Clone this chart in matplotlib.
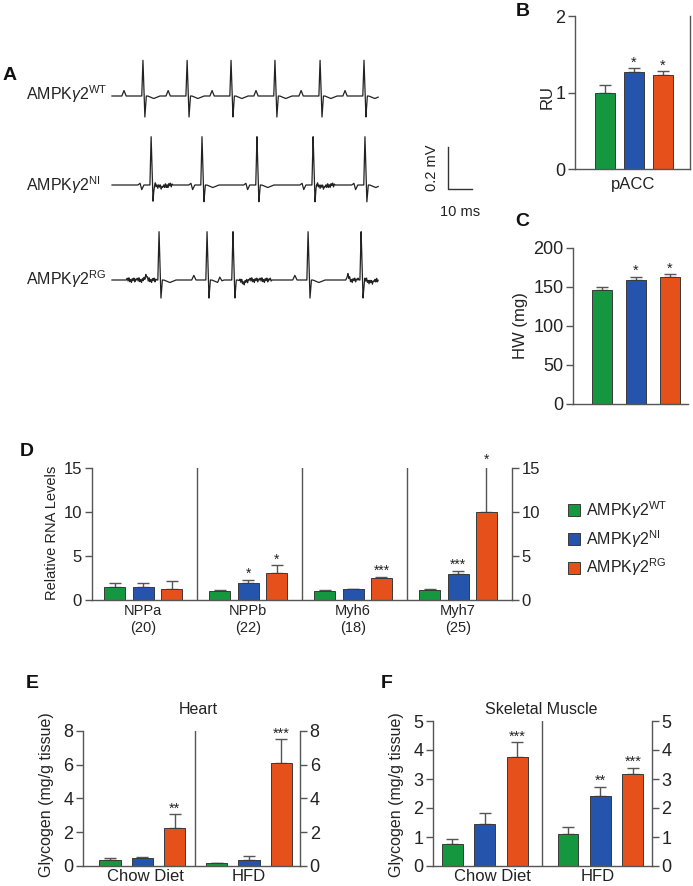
import numpy as np
import matplotlib
matplotlib.use('Agg')
import matplotlib.pyplot as plt
from matplotlib.patches import Patch

plt.rcParams['font.family'] = ['Liberation Sans', 'DejaVu Sans']
plt.rcParams['mathtext.fontset'] = 'custom'
plt.rcParams['mathtext.rm'] = 'Liberation Sans'
plt.rcParams['mathtext.it'] = 'Liberation Sans:italic'
plt.rcParams['mathtext.bf'] = 'Liberation Sans:bold'
plt.rcParams['text.color'] = '#222222'
plt.rcParams['xtick.color'] = '#555555'
plt.rcParams['ytick.color'] = '#555555'
plt.rcParams['xtick.labelcolor'] = '#222222'
plt.rcParams['ytick.labelcolor'] = '#222222'

# ---------------- data ----------------
genotype_labels = [r'AMPK$\gamma$2$^{\mathrm{WT}}$', r'AMPK$\gamma$2$^{\mathrm{NI}}$', r'AMPK$\gamma$2$^{\mathrm{RG}}$']

# Panel A: ECG traces (spike times in ms, amplitudes in mV)
ecg_spikes_wt = [12.9, 31.3, 49.6, 67.9, 86.7, 105.0]
ecg_spikes_ni = [16.3, 37.5, 60.4, 83.8, 105.4]
ecg_spikes_rg = [19.6, 39.6, 50.4, 81.7, 103.8]
ecg_up = [0.17, 0.23, 0.23]
ecg_down = [0.10, 0.08, 0.086]
ecg_noise_windows_ni = [(17.0, 25.5), (84.6, 93.6)]
ecg_noise_windows_rg = [(6.0, 19.0), (53.0, 67.0), (98.0, 103.0), (105.0, 111.0)]
ecg_noise_pattern = [0.0, 0.010, -0.005, 0.013, -0.008, 0.004, -0.012, 0.008, -0.003, 0.011, -0.009, 0.005]

# Panel B: pACC
pacc_vals = [1.00, 1.27, 1.23]
pacc_err = [0.10, 0.05, 0.05]
pacc_sig = ['', '*', '*']

# Panel C: heart weight
hw_vals = [146, 159, 162]
hw_err = [4, 4, 4]
hw_sig = ['', '*', '*']

# Panel D: relative RNA levels
rna_genes = ['NPPa\n(20)', 'NPPb\n(22)', 'Myh6\n(18)', 'Myh7\n(25)']
rna_wt = [1.5, 1.05, 1.05, 1.12]
rna_wt_err = [0.45, 0.10, 0.05, 0.15]
rna_ni = [1.5, 1.95, 1.2, 2.92]
rna_ni_err = [0.45, 0.35, 0.05, 0.42]
rna_rg = [1.2, 3.07, 2.5, 10.0]
rna_rg_err = [1.0, 0.90, 0.15, 5.3]
rna_sig_wt = ['', '', '', '']
rna_sig_ni = ['', '*', '', '***']
rna_sig_rg = ['', '*', '***', '*']

# Panel E: heart glycogen
diets = ['Chow Diet', 'HFD']
heart_wt = [0.36, 0.16]
heart_wt_err = [0.13, 0.04]
heart_ni = [0.45, 0.36]
heart_ni_err = [0.10, 0.25]
heart_rg = [2.27, 6.07]
heart_rg_err = [0.79, 1.44]
heart_sig_wt = ['', '']
heart_sig_ni = ['', '']
heart_sig_rg = ['**', '***']

# Panel F: skeletal muscle glycogen
muscle_wt = [0.76, 1.10]
muscle_wt_err = [0.17, 0.23]
muscle_ni = [1.45, 2.41]
muscle_ni_err = [0.37, 0.33]
muscle_rg = [3.77, 3.16]
muscle_rg_err = [0.49, 0.23]
muscle_sig_wt = ['', '']
muscle_sig_ni = ['', '**']
muscle_sig_rg = ['***', '***']

# ---------------- style ----------------
W, H = 693, 886
GREEN, BLUE, ORANGE = '#15973f', '#2554ad', '#e5501b'
COLORS = [GREEN, BLUE, ORANGE]
SPINE = '#555555'
EDGE = '#3a3a3a'

fig = plt.figure(figsize=(W / 100, H / 100), dpi=100)


def ax_at(x0, y0, x1, y1):
    return fig.add_axes([x0 / W, 1 - y1 / H, (x1 - x0) / W, (y1 - y0) / H])


def ftext(x, y, s, **kw):
    return fig.text(x / W, 1 - y / H, s, **kw)


def style_axes(ax, right=False, rightticks=False, fs=13):
    ax.spines['top'].set_visible(False)
    ax.spines['right'].set_visible(right)
    for s in ['left', 'bottom', 'right']:
        ax.spines[s].set_color(SPINE)
        ax.spines[s].set_linewidth(1.0)
    ax.tick_params(axis='y', direction='out', length=5, width=1, labelsize=fs, pad=2,
                   right=rightticks, labelright=rightticks)
    ax.tick_params(axis='x', length=0, labelsize=fs)


def bars(ax, xs, vals, errs, color, width, sigs, fs=10.5):
    ax.bar(xs, vals, width=width, color=color, edgecolor=EDGE, linewidth=0.7, zorder=2)
    ax.errorbar(xs, vals, yerr=[np.zeros(len(vals)), errs], fmt='none', ecolor='#555555',
                elinewidth=1.0, capsize=4, capthick=1.0, zorder=1)
    for x, v, e, s in zip(xs, vals, errs, sigs):
        if s:
            ax.annotate(s, (x, v + e), xytext=(0, -1), textcoords='offset points',
                        ha='center', va='bottom', fontsize=fs, color='#222222',
                        annotation_clip=False)


# ---------------- Panel A ----------------
k = 0.2 / 42.0  # mV per pixel
axA = ax_at(100, 50, 490, 300)
axA.set_xlim((100 - 112) / 2.4, (490 - 112) / 2.4)
axA.set_ylim(-(300 - 96) * k, (96 - 50) * k)
axA.axis('off')


def ecg_trace(spikes, up, down, kind, windows):
    knots = []
    for s in spikes:
        knots += [s - 0.5, s, s + 0.8, s + 1.4]
    grid = np.union1d(np.arange(0, 111.0, 0.1), np.array(knots))
    y = np.zeros_like(grid)
    for s in spikes:
        y += np.interp(grid, [s - 0.5, s, s + 0.8, s + 1.4], [0, up, -down, 0], left=0, right=0)
        y += np.interp(grid, [s + 2.0, s + 4.5, s + 7.0], [0, -0.012, 0], left=0, right=0)
        if kind == 'WT':
            y += np.interp(grid, [s - 8.8, s - 7.9, s - 7.0], [0, 0.026, 0], left=0, right=0)
        elif kind == 'NI':
            y += np.interp(grid, [s - 5.5, s - 4.6, s - 3.9, s - 3.0], [0, 0.008, -0.022, 0], left=0, right=0)
        else:
            y += np.interp(grid, [s - 6.4, s - 5.5, s - 4.6], [0, 0.022, 0], left=0, right=0)
    npat = len(ecg_noise_pattern)
    for (a, b) in windows:
        nt = np.arange(a, b, 0.35)
        nv = np.array([ecg_noise_pattern[i % npat] for i in range(len(nt))])
        nv[0] = 0
        nv[-1] = 0
        y += np.interp(grid, nt, nv, left=0, right=0)
    return grid, y


ecg_offsets = [0.0, -(185 - 96) * k, -(280 - 96) * k]
traces = [
    ecg_trace(ecg_spikes_wt, ecg_up[0], ecg_down[0], 'WT', []),
    ecg_trace(ecg_spikes_ni, ecg_up[1], ecg_down[1], 'NI', ecg_noise_windows_ni),
    ecg_trace(ecg_spikes_rg, ecg_up[2], ecg_down[2], 'RG', ecg_noise_windows_rg),
]
for (t, y), off in zip(traces, ecg_offsets):
    axA.plot(t, y + off, color='#222222', lw=0.9)

# scale bar
sb_x0 = (448 - 112) / 2.4
sb_y0 = -(189 - 96) * k
axA.plot([sb_x0, sb_x0, sb_x0 + 10], [sb_y0 + 0.2, sb_y0, sb_y0], color='#333333', lw=1.0)
axA.text(sb_x0 - 6.5, sb_y0 + 0.1, '0.2 mV', rotation=90, ha='center', va='center', fontsize=10.5)
axA.text(sb_x0 + 5, -(212 - 96) * k, '10 ms', ha='center', va='center', fontsize=10.5)

for lab, yy in zip(genotype_labels, [94, 185, 279]):
    ftext(26, yy, lab, ha='left', va='center', fontsize=11.5)

# ---------------- Panel B ----------------
axB = ax_at(575, 16, 690, 169.3)
style_axes(axB, right=True)
xs = np.arange(3)
bars(axB, xs, pacc_vals, pacc_err, COLORS, 20 / 29, pacc_sig)
axB.set_xlim(-30 / 29, 85 / 29)
axB.set_ylim(0, 2)
axB.set_yticks([0, 1, 2])
axB.set_xticks([])
ftext(547, 97, 'RU', rotation=90, ha='center', va='center', fontsize=12)
ftext(633, 185, 'pACC', ha='center', va='center', fontsize=12)

# ---------------- Panel C ----------------
axC = ax_at(573.3, 247.7, 688, 404)
style_axes(axC)
bars(axC, xs, hw_vals, hw_err, COLORS, 20 / 34, hw_sig)
axC.set_xlim((573.3 - 602) / 34, (688 - 602) / 34)
axC.set_ylim(0, 200)
axC.set_yticks([0, 50, 100, 150, 200])
axC.set_xticks([])
ftext(521, 326, 'HW (mg)', rotation=90, ha='center', va='center', fontsize=12)

# ---------------- Panel D ----------------
axD = ax_at(91.7, 467.7, 511.7, 600)
style_axes(axD, right=True, rightticks=True, fs=12)
g = np.arange(4)
offs = [0.22, 0.49, 0.76]
for j, (vals, errs, sig) in enumerate([(rna_wt, rna_wt_err, rna_sig_wt),
                                       (rna_ni, rna_ni_err, rna_sig_ni),
                                       (rna_rg, rna_rg_err, rna_sig_rg)]):
    bars(axD, g + offs[j], vals, errs, COLORS[j], 0.2, sig, fs=10)
for i in [1, 2, 3]:
    axD.axvline(i, color=SPINE, lw=1.0, zorder=0)
axD.set_xlim(0, 4)
axD.set_ylim(0, 15)
axD.set_yticks([0, 5, 10, 15])
axD.set_xticks(g + 0.49)
axD.set_xticklabels(rna_genes, fontsize=10.5, linespacing=1.25)
axD.tick_params(axis='x', pad=3)
ftext(52, 533, 'Relative RNA Levels', rotation=90, ha='center', va='center', fontsize=10.5)

handles = [Patch(facecolor=c, edgecolor=EDGE, linewidth=0.7) for c in COLORS]
fig.legend(handles, genotype_labels, loc='upper left', bbox_to_anchor=(568 / W, 1 - 499 / H),
           frameon=False, fontsize=11.5, handlelength=0.75, handleheight=0.75,
           handletextpad=0.35, labelspacing=0.45, borderaxespad=0, borderpad=0)

# ---------------- Panel E ----------------
axE = ax_at(83.3, 730.7, 300, 866)
style_axes(axE, right=True, rightticks=True, fs=13)
gg = np.arange(2)
for j, (vals, errs, sig) in enumerate([(heart_wt, heart_wt_err, heart_sig_wt),
                                       (heart_ni, heart_ni_err, heart_sig_ni),
                                       (heart_rg, heart_rg_err, heart_sig_rg)]):
    bars(axE, gg * 3.3 + 0.83 + j, vals, errs, COLORS[j], 0.66, sig)
axE.axvline(3.47, color=SPINE, lw=1.0, zorder=0)
axE.set_xlim(0, (300 - 83.3) / 32.3)
axE.set_ylim(0, 8)
axE.set_yticks([0, 2, 4, 6, 8])
axE.set_xticks(gg * 3.2 + 1.92)
axE.set_xticklabels(diets, fontsize=12)
axE.tick_params(axis='x', pad=2)
ftext(198, 709, 'Heart', ha='center', va='center', fontsize=11.5)
ftext(47, 795, 'Glycogen (mg/g tissue)', rotation=90, ha='center', va='center', fontsize=11.5)

# ---------------- Panel F ----------------
axF = ax_at(433.3, 721, 651.7, 866)
style_axes(axF, right=True, rightticks=True, fs=13)
for j, (vals, errs, sig) in enumerate([(muscle_wt, muscle_wt_err, muscle_sig_wt),
                                       (muscle_ni, muscle_ni_err, muscle_sig_ni),
                                       (muscle_rg, muscle_rg_err, muscle_sig_rg)]):
    bars(axF, gg * 3.55 + 0.58 + j * 0.995, vals, errs, COLORS[j], 0.64, sig)
axF.axvline(3.33, color=SPINE, lw=1.0, zorder=0)
axF.set_xlim(0, (651.7 - 433.3) / 32.6)
axF.set_ylim(0, 5)
axF.set_yticks([0, 1, 2, 3, 4, 5])
axF.set_xticks(gg * 3.25 + 1.80)
axF.set_xticklabels(diets, fontsize=12)
axF.tick_params(axis='x', pad=2)
ftext(541, 709, 'Skeletal Muscle', ha='center', va='center', fontsize=11.5)
ftext(396, 795, 'Glycogen (mg/g tissue)', rotation=90, ha='center', va='center', fontsize=11.5)

# ---------------- panel letters ----------------
for letter, (x, y) in {'A': (10, 76), 'B': (523, 11), 'C': (522, 222), 'D': (27, 452),
                       'E': (32, 683), 'F': (387, 683)}.items():
    ftext(x, y, letter, ha='center', va='center', fontsize=14, fontweight='bold', color='#111111')

fig.savefig('out.png', dpi=100)
